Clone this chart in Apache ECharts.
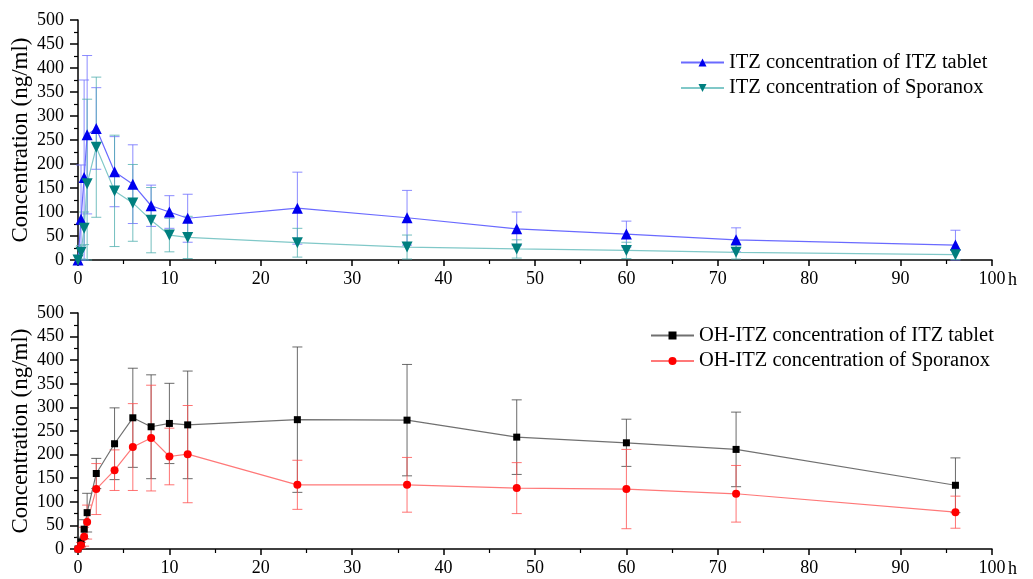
<!DOCTYPE html>
<html>
<head>
<meta charset="utf-8">
<script src="https://cdn.jsdelivr.net/npm/echarts@6/dist/echarts.min.js"></script>
<style>
  html, body { margin: 0; padding: 0; background: #fff; }
  #chart { width: 1033px; height: 579px; }
</style>
</head>
<body>
<div id="chart"></div>
<script>
// Sampling times (h)
const times = [0, 0.33, 0.67, 1, 2, 4, 6, 8, 10, 12, 24, 36, 48, 60, 72, 96];

// ITZ plasma concentration (ng/ml), mean and SD
const itzTablet    = [0, 85, 172, 261, 274, 184, 158, 113, 100, 87, 108, 88, 65, 54, 42, 31];
const itzTabletSd  = [0, 113, 203, 165, 85, 73, 82, 43, 34, 50, 75, 57, 35, 27, 25, 31];
const itzSpor      = [0, 16, 66, 159, 235, 144, 119, 83, 52, 47, 36, 27, 23, 20, 16, 11];
const itzSporSd    = [0, 14, 34, 176, 146, 116, 80, 68, 35, 44, 30, 25, 19, 17, 14, 10];

// OH-ITZ plasma concentration (ng/ml), mean and SD
const ohTablet     = [0, 15, 42, 77, 160, 223, 278, 259, 266, 263, 274, 273, 237, 225, 211, 135];
const ohTabletSd   = [0, 10, 20, 41, 32, 76, 105, 110, 85, 114, 154, 118, 79, 50, 79, 58];
const ohSpor       = [0, 8, 26, 57, 127, 167, 216, 235, 196, 201, 136, 136, 129, 127, 117, 78];
const ohSporSd     = [0, 6, 20, 36, 54, 43, 92, 112, 60, 103, 52, 58, 54, 84, 60, 34];

const seriesNames = [
  'ITZ concentration of ITZ tablet',
  'ITZ concentration of Sporanox',
  'OH-ITZ concentration of ITZ tablet',
  'OH-ITZ concentration of Sporanox'
];

const FONT = "'Liberation Serif', 'Times New Roman', serif";

function points(mean) { return times.map((t, i) => [t, mean[i]]); }
function bars(mean, sd) { return times.map((t, i) => [t, mean[i], sd[i]]); }

// Mean ± SD whiskers with caps, lower end stopped at zero
function errorBarSeries(idx, mean, sd, color) {
  return {
    type: 'custom',
    xAxisIndex: idx, yAxisIndex: idx,
    data: bars(mean, sd),
    encode: { x: 0, y: 1 },
    silent: true,
    z: 1,
    renderItem: function (params, api) {
      const x = api.value(0), m = api.value(1), s = api.value(2);
      if (!s) return null;
      const top = api.coord([x, m + s]);
      const bot = api.coord([x, Math.max(0, m - s)]);
      const w = 5;
      const style = { stroke: color, lineWidth: 1, fill: null };
      return {
        type: 'group',
        children: [
          { type: 'line', shape: { x1: top[0], y1: top[1], x2: bot[0], y2: bot[1] }, style: style },
          { type: 'line', shape: { x1: top[0] - w, y1: top[1], x2: top[0] + w, y2: top[1] }, style: style },
          { type: 'line', shape: { x1: bot[0] - w, y1: bot[1], x2: bot[0] + w, y2: bot[1] }, style: style }
        ]
      };
    }
  };
}

function lineSeries(idx, name, mean, symbol, size, markColor, lineColor) {
  return {
    type: 'line',
    name: name,
    xAxisIndex: idx, yAxisIndex: idx,
    data: points(mean),
    symbol: symbol,
    symbolSize: size,
    showAllSymbol: true,
    z: 3,
    lineStyle: { color: lineColor, width: 1.2 },
    itemStyle: { color: markColor, borderWidth: 0 }
  };
}

function xAxis(idx) {
  return {
    type: 'value', gridIndex: idx,
    min: 0, max: 100, interval: 10,
    name: 'h', nameLocation: 'end', nameGap: 16,
    nameMoveOverlap: false,
    nameTextStyle: { fontFamily: FONT, fontSize: 18, color: '#000', verticalAlign: 'top', padding: [11, 0, 0, 0] },
    axisLine: { onZero: false, lineStyle: { color: '#000', width: 1.5 } },
    axisTick: { inside: false, length: 6, lineStyle: { color: '#000', width: 1.5 } },
    minorTick: { show: true, splitNumber: 2, length: 4, lineStyle: { color: '#000', width: 1.2 } },
    axisLabel: { fontFamily: FONT, fontSize: 18, color: '#000', margin: 10 },
    splitLine: { show: false }
  };
}

function yAxis(idx) {
  return {
    type: 'value', gridIndex: idx,
    min: 0, max: 500, interval: 50,
    name: 'Concentration (ng/ml)', nameLocation: 'middle', nameGap: 46,
    nameMoveOverlap: false,
    nameTextStyle: { fontFamily: FONT, fontSize: 23, color: '#000' },
    axisLine: { show: true, lineStyle: { color: '#000', width: 1.5 } },
    axisTick: { show: true, inside: false, length: 8, lineStyle: { color: '#000', width: 1.5 } },
    minorTick: { show: true, splitNumber: 2, length: 4, lineStyle: { color: '#000', width: 1.2 } },
    axisLabel: { fontFamily: FONT, fontSize: 18, color: '#000', margin: 14 },
    splitLine: { show: false }
  };
}

const chart = echarts.init(document.getElementById('chart'), null, { renderer: 'canvas' });

chart.setOption({
  backgroundColor: '#fff',
  animation: false,
  grid: [
    { left: 78, right: 41, top: 20, height: 240, containLabel: false, outerBoundsMode: 'none' },
    { left: 78, right: 41, top: 313, height: 236, containLabel: false, outerBoundsMode: 'none' }
  ],
  xAxis: [xAxis(0), xAxis(1)],
  yAxis: [yAxis(0), yAxis(1)],
  legend: [
    {
      data: [seriesNames[0], seriesNames[1]],
      orient: 'vertical', left: 675, top: 47,
      itemWidth: 43, itemHeight: 10, itemGap: 4.5,
      textStyle: { fontFamily: FONT, fontSize: 20.5, color: '#000' }
    },
    {
      data: [seriesNames[2], seriesNames[3]],
      orient: 'vertical', left: 645, top: 320,
      itemWidth: 43, itemHeight: 10, itemGap: 4.5,
      textStyle: { fontFamily: FONT, fontSize: 20.5, color: '#000' }
    }
  ],
  series: [
    errorBarSeries(0, itzTablet, itzTabletSd, 'rgba(110,110,255,0.8)'),
    errorBarSeries(0, itzSpor, itzSporSd, 'rgba(80,175,175,0.8)'),
    errorBarSeries(1, ohTablet, ohTabletSd, 'rgba(70,70,70,0.8)'),
    errorBarSeries(1, ohSpor, ohSporSd, 'rgba(255,80,80,0.8)'),
    lineSeries(0, seriesNames[0], itzTablet, 'triangle', 11, '#0000ee', '#6a6aff'),
    lineSeries(0, seriesNames[1], itzSpor, 'path://M0,0 L10,0 L5,9 Z', 11, '#007f7f', '#80c8c8'),
    lineSeries(1, seriesNames[2], ohTablet, 'rect', 7, '#000000', '#707070'),
    lineSeries(1, seriesNames[3], ohSpor, 'circle', 8, '#ff0000', '#ff7878')
  ]
});
</script>
</body>
</html>
